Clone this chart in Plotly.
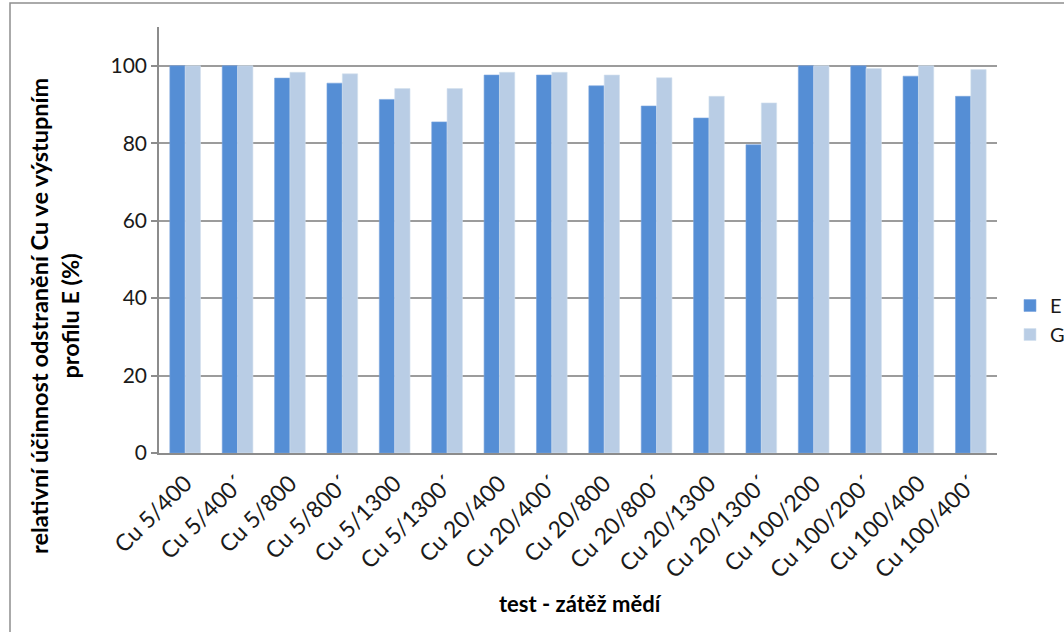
import plotly.graph_objects as go

categories = [
    "Cu 5/400", "Cu 5/400´", "Cu 5/800", "Cu 5/800´", "Cu 5/1300", "Cu 5/1300´",
    "Cu 20/400", "Cu 20/400´", "Cu 20/800", "Cu 20/800´", "Cu 20/1300", "Cu 20/1300´",
    "Cu 100/200", "Cu 100/200´", "Cu 100/400", "Cu 100/400´",
]
values_E = [100, 100, 96.8, 95.5, 91.3, 85.5, 97.6, 97.6, 94.8, 89.6, 86.5, 79.6, 100, 100, 97.3, 92.1]
values_G = [100, 100, 98.3, 97.9, 94.1, 94.1, 98.3, 98.3, 97.6, 96.9, 92.1, 90.4, 100, 99.3, 100, 99.0]
y_ticks = [0, 20, 40, 60, 80, 100]

FONT = "Lato, 'Open Sans', sans-serif"
W, H = 1064, 632
L, R, T, B = 159, 67, 27, 179
PW, PH = W - L - R, H - T - B


def px_x(x):
    return (x - L) / PW


def px_y(y):
    return (H - B - y) / PH


fig = go.Figure()
fig.add_trace(go.Bar(name="E", x=categories, y=values_E,
                     marker=dict(color="#558ED5", line=dict(color="#7aa5dd", width=0.6))))
fig.add_trace(go.Bar(name="G", x=categories, y=values_G,
                     marker=dict(color="#B9CDE5", line=dict(color="#d4e0ef", width=0.6))))

fig.update_layout(
    width=W, height=H,
    margin=dict(l=L, r=R, t=T, b=B, autoexpand=False),
    paper_bgcolor="white", plot_bgcolor="white",
    barmode="group", bargap=0.414, bargroupgap=0,
    font=dict(family=FONT, size=20, color="#1a1a1a"),
    legend=dict(x=px_x(1010), y=px_y(320), xanchor="left", yanchor="middle",
                font=dict(size=20), itemwidth=30, tracegroupgap=14,
                bgcolor="rgba(0,0,0,0)", borderwidth=0),
    showlegend=True,
)

fig.update_xaxes(
    tickangle=-45, tickfont=dict(size=23), showgrid=False,
    showline=True, linecolor="#8c8c8c", linewidth=1.5, ticks="",
    ticklabelstandoff=6,
)
fig.update_yaxes(
    range=[0, 110], tickvals=y_ticks, tickfont=dict(size=21),
    showgrid=True, gridcolor="#9c9c9c", gridwidth=1.5,
    showline=True, linecolor="#8c8c8c", linewidth=1.5,
    ticks="outside", ticklen=6, tickcolor="#8c8c8c", tickwidth=1.5,
    zeroline=False,
)

# axis titles
fig.add_annotation(
    text="<b>relativní účinnost odstranění Cu ve výstupním<br>profilu E (%)</b>",
    xref="paper", yref="paper", x=px_x(54), y=px_y(316),
    textangle=-90, showarrow=False, font=dict(size=23.5, color="black"),
    xanchor="center", yanchor="middle", align="center",
)
fig.add_annotation(
    text="<b>test - zátěž mědí</b>",
    xref="paper", yref="paper", x=px_x(580), y=px_y(603),
    showarrow=False, font=dict(size=22, color="black"),
    xanchor="center", yanchor="middle",
)

# chart frame (left and top edges visible)
fig.add_shape(type="rect", xref="paper", yref="paper",
              x0=px_x(10), x1=px_x(1080), y0=px_y(650), y1=px_y(3),
              line=dict(color="#8f8f8f", width=1.5), layer="below")

fig.write_html("out.html")
